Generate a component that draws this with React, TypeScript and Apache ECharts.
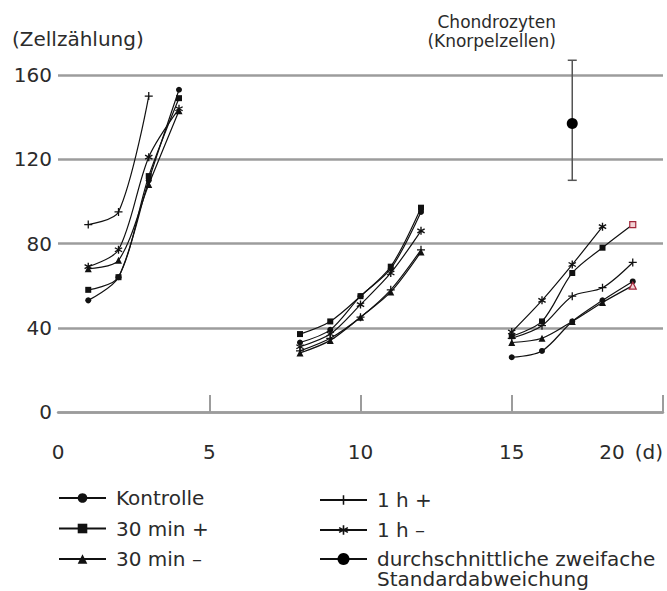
import React, { useEffect, useRef } from "react";
import * as echarts from "echarts";

// ---- data ----
const clusterDays: number[][] = [
  [1, 2, 3, 4],
  [8, 9, 10, 11, 12],
  [15, 16, 17, 18, 19],
];
const seriesNames = ["Kontrolle", "30 min +", "30 min –", "1 h +", "1 h –"];
const kontrolle: (number | null)[][] = [
  [53, 64, 110, 153],
  [33, 39, 55, 68, 95],
  [26, 29, 43, 53, 62],
];
const min30Plus: (number | null)[][] = [
  [58, 64, 112, 149],
  [37, 43, 55, 69, 97],
  [36, 43, 66, 78, 89],
];
const min30Minus: (number | null)[][] = [
  [68, 72, 108, 143],
  [28, 34, 45, 57, 76],
  [33, 35, 43, 52, 60],
];
const h1Plus: (number | null)[][] = [
  [89, 95, 150, null],
  [29, 35, 45, 58, 77],
  [35, 41, 55, 59, 71],
];
const h1Minus: (number | null)[][] = [
  [69, 77, 121, 144],
  [31, 37, 51, 66, 86],
  [38, 53, 70, 88, null],
];
const seriesValues = [kontrolle, min30Plus, min30Minus, h1Plus, h1Minus];
// points drawn with a red marker in the reference (series index, day)
const redPoints = [
  { series: 1, day: 19 },
  { series: 2, day: 19 },
];
const sdName = "durchschnittliche zweifache Standardabweichung";
const sdDay = 17;
const sdMean = 137;
const sdLow = 110;
const sdHigh = 167;
const yTicks = [0, 40, 80, 120, 160];
const xTicks = [0, 5, 10, 15, 20];

// ---- styles ----
const FONT = "DejaVu Sans";
const TEXT = "#2b2b2b";
const GRID = "#9c9c9c";

function barPath(angle: number): string {
  const cx = 5, cy = 5, hl = 5, hw = 0.8;
  const a = (angle * Math.PI) / 180;
  const ca = Math.cos(a), sa = Math.sin(a);
  const pts = [
    [-hw, -hl],
    [hw, -hl],
    [hw, hl],
    [-hw, hl],
  ].map(([x, y]) => [cx + x * ca - y * sa, cy + x * sa + y * ca]);
  return "M" + pts.map((p) => p[0].toFixed(3) + "," + p[1].toFixed(3)).join("L") + "Z";
}
const plusSymbol = "path://" + barPath(0) + barPath(90);
const starSymbol = "path://" + barPath(0) + barPath(60) + barPath(120);

const symbols = ["circle", "rect", "triangle", plusSymbol, starSymbol];
const symbolSizes = [6, 6, 7, 8, 8];

function buildData(values: (number | null)[][], sIdx: number) {
  const out: any[] = [];
  clusterDays.forEach((days, ci) => {
    if (ci > 0) out.push([days[0] - 1, "-"]);
    days.forEach((d, i) => {
      const v = values[ci][i];
      if (v == null) {
        out.push([d, "-"]);
        return;
      }
      const red = redPoints.some((r) => r.series === sIdx && r.day === d);
      if (red) {
        out.push({
          value: [d, v],
          itemStyle: { color: "#f3d3d6", borderColor: "#a3283c", borderWidth: 1.2 },
        });
      } else {
        out.push([d, v]);
      }
    });
  });
  return out;
}

export default function App() {
  const ref = useRef<HTMLDivElement>(null);
  useEffect(() => {
    if (!ref.current) return;
    const chart = echarts.init(ref.current, null, { renderer: "svg" });

    const lineSeries = seriesNames.map((name, i) => ({
      type: "line",
      name,
      data: buildData(seriesValues[i], i),
      smooth: 0.3,
      symbol: symbols[i],
      symbolSize: symbolSizes[i],
      showSymbol: true,
      connectNulls: false,
      lineStyle: { color: "#111", width: 1.2 },
      itemStyle: { color: "#111" },
      z: 3,
    }));

    const sdSeries = {
      type: "line",
      name: sdName,
      clip: false,
      data: [
        { value: [sdDay, sdLow], symbol: "rect", symbolSize: [9, 1.5], itemStyle: { color: "#555" } },
        { value: [sdDay, sdMean] },
        { value: [sdDay, sdHigh], symbol: "rect", symbolSize: [9, 1.5], itemStyle: { color: "#555" } },
      ],
      symbol: "circle",
      symbolSize: 11,
      showSymbol: true,
      lineStyle: { color: "#555", width: 1.5 },
      itemStyle: { color: "#000" },
      z: 4,
    };

    const legendCommon = {
      orient: "vertical",
      selectedMode: false,
      padding: 0,
      itemWidth: 47,
      itemHeight: 12,
      lineStyle: { width: 2, color: "#111" },
      textStyle: {
        fontFamily: FONT,
        fontSize: 20,
        color: TEXT,
        lineHeight: 20,
        padding: [0, 0, 0, 5],
      },
    };

    chart.setOption({
      animation: false,
      backgroundColor: "#fff",
      grid: { left: 58, right: 4, top: 75, bottom: 179 },
      xAxis: {
        type: "value",
        min: 0,
        max: 20,
        interval: 5,
        axisLine: { show: true, lineStyle: { color: GRID, width: 2.5 } },
        axisTick: {
          show: true,
          inside: true,
          length: 17,
          customValues: xTicks.filter((v) => v > 0),
          lineStyle: { color: GRID, width: 2 },
        },
        splitLine: { show: false },
        axisLabel: {
          fontFamily: FONT,
          fontSize: 20,
          color: TEXT,
          margin: 30,
          alignMaxLabel: "right",
          customValues: xTicks,
          formatter: (v: number) => (v === 20 ? "{n|20}{u|(d)}" : String(v)),
          rich: {
            n: { fontFamily: FONT, fontSize: 20, color: TEXT },
            u: { fontFamily: FONT, fontSize: 20, color: TEXT, padding: [0, 0, 0, 10] },
          },
        },
      },
      yAxis: {
        type: "value",
        min: 0,
        max: 160,
        interval: 40,
        axisLine: { show: false },
        axisTick: { show: false },
        splitLine: { show: true, lineStyle: { color: GRID, width: 2.5 } },
        axisLabel: {
          fontFamily: FONT,
          fontSize: 20,
          color: TEXT,
          margin: 6,
          padding: [12, 0, 0, 0],
          customValues: yTicks,
        },
      },
      legend: [
        {
          ...legendCommon,
          left: 58,
          top: 488,
          itemGap: 10.5,
          data: seriesNames.slice(0, 3),
        },
        {
          ...legendCommon,
          left: 319,
          top: 490,
          itemGap: 10,
          data: seriesNames.slice(3, 5),
        },
        {
          ...legendCommon,
          left: 319,
          top: 529,
          itemHeight: 15,
          textStyle: { ...legendCommon.textStyle, lineHeight: 20 },
          data: [sdName],
          formatter: () => "\ndurchschnittliche zweifache\nStandardabweichung",
        },
      ],
      graphic: [
        {
          type: "text",
          x: 12,
          y: 39,
          style: {
            text: "(Zellzählung)",
            font: `20px "${FONT}"`,
            fill: TEXT,
            verticalAlign: "middle",
          },
        },
        {
          type: "text",
          x: 556,
          y: 22,
          style: {
            text: "Chondrozyten",
            font: `17px "${FONT}"`,
            fill: TEXT,
            align: "right",
            verticalAlign: "middle",
          },
        },
        {
          type: "text",
          x: 556,
          y: 41,
          style: {
            text: "(Knorpelzellen)",
            font: `17px "${FONT}"`,
            fill: TEXT,
            align: "right",
            verticalAlign: "middle",
          },
        },
      ],
      series: [...lineSeries, sdSeries],
    });
    return () => chart.dispose();
  }, []);
  return (
    <div
      ref={ref}
      style={{ position: "fixed", left: 0, top: 0, width: 667, height: 591 }}
    />
  );
}
